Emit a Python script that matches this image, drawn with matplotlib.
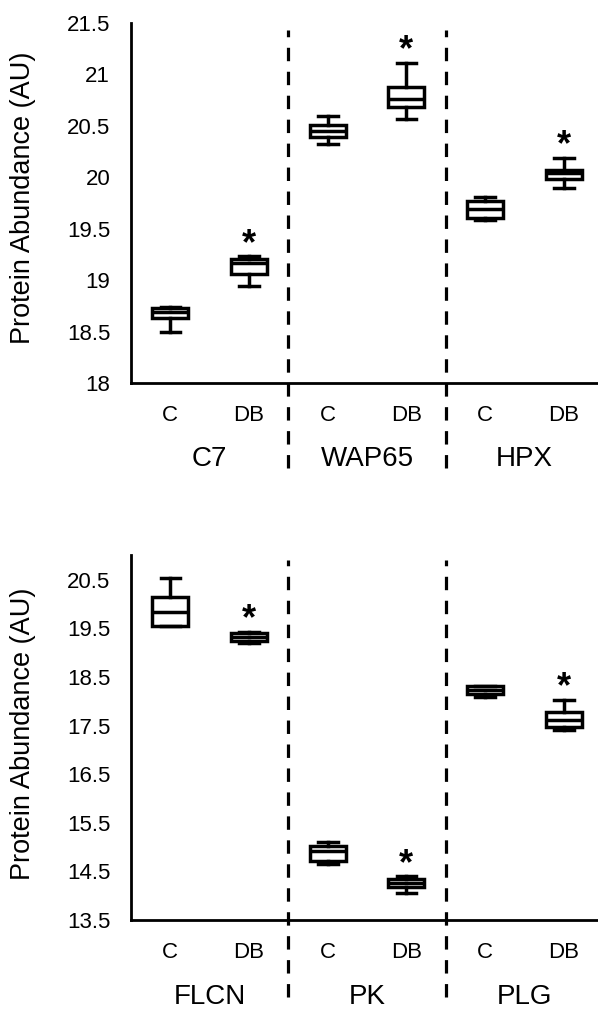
import matplotlib
matplotlib.use("Agg")
import matplotlib.pyplot as plt
import matplotlib.transforms as mtransforms

plt.rcParams['font.family'] = ['Liberation Sans', 'DejaVu Sans']

conditions = ["C", "DB"]

top_genes = ["C7", "WAP65", "HPX"]
top_whislo = [18.50, 18.94, 20.32, 20.57, 19.58, 19.90]
top_q1 = [18.63, 19.06, 20.39, 20.68, 19.60, 19.98]
top_med = [18.69, 19.17, 20.45, 20.76, 19.69, 20.04]
top_q3 = [18.73, 19.21, 20.51, 20.88, 19.77, 20.07]
top_whishi = [18.74, 19.23, 20.60, 21.11, 19.81, 20.19]
top_sig = [False, True, False, True, False, True]
top_yticks = [18, 18.5, 19, 19.5, 20, 20.5, 21, 21.5]
top_ylabels = ["18", "18.5", "19", "19.5", "20", "20.5", "21", "21.5"]

bot_genes = ["FLCN", "PK", "PLG"]
bot_whislo = [19.54, 19.20, 14.65, 14.06, 18.09, 17.41]
bot_q1 = [19.55, 19.24, 14.71, 14.18, 18.15, 17.47]
bot_med = [19.84, 19.33, 14.92, 14.27, 18.24, 17.62]
bot_q3 = [20.15, 19.40, 15.02, 14.34, 18.31, 17.78]
bot_whishi = [20.54, 19.43, 15.11, 14.40, 18.32, 18.03]
bot_sig = [False, True, False, True, False, True]
bot_yticks = [13.5, 14.5, 15.5, 16.5, 17.5, 18.5, 19.5, 20.5]
bot_ylabels = ["13.5", "14.5", "15.5", "16.5", "17.5", "18.5", "19.5", "20.5"]

W, H = 598, 1009
fig = plt.figure(figsize=(W / 100, H / 100), dpi=100)


def panel(rect, genes, lo, q1, med, q3, hi, sig, yticks, ylabels, ylim,
          dash_top, dash_bot, ylabel_y):
    ax = fig.add_axes(rect)
    n = len(med)
    positions = list(range(n))
    stats = []
    for i in range(n):
        stats.append(dict(whislo=lo[i], q1=q1[i], med=med[i], q3=q3[i],
                          whishi=hi[i], fliers=[]))
    lw = 2.5
    ax.bxp(stats, positions=positions, widths=0.46, capwidths=0.25,
           patch_artist=True, showfliers=False,
           boxprops=dict(facecolor="white", edgecolor="black", linewidth=lw),
           medianprops=dict(color="black", linewidth=lw),
           whiskerprops=dict(color="black", linewidth=lw),
           capprops=dict(color="black", linewidth=lw))
    for i in range(n):
        if sig[i]:
            ax.annotate("*", xy=(positions[i], hi[i]), xytext=(0, -4),
                        textcoords="offset points", ha="center", va="bottom",
                        fontsize=26, fontweight="bold", color="black")
    ax.set_xlim(-0.5, n - 0.5)
    ax.set_ylim(*ylim)
    ax.set_yticks(yticks)
    ax.set_yticklabels(ylabels)
    ax.set_xticks(positions)
    ax.set_xticklabels([conditions[i % 2] for i in range(n)])
    ax.tick_params(axis="y", length=0, pad=15, labelsize=16, colors="black")
    ax.tick_params(axis="x", length=0, pad=16, labelsize=16, colors="black")
    for s in ["top", "right"]:
        ax.spines[s].set_visible(False)
    for s in ["left", "bottom"]:
        ax.spines[s].set_linewidth(2.0)
        ax.spines[s].set_color("black")
    trans = mtransforms.blended_transform_factory(ax.transData, ax.transAxes)
    for b in [1.5, 3.5]:
        ax.plot([b, b], [dash_bot, dash_top], transform=trans, clip_on=False,
                color="black", linewidth=2.3, linestyle=(0, (4.2, 3.3)),
                solid_capstyle="butt", dash_capstyle="butt", zorder=5)
    for g, name in enumerate(genes):
        ax.text(2 * g + 0.5, -0.212, name, transform=trans, ha="center",
                va="center", fontsize=20, color="black")
    fig.text(23 / W, ylabel_y, "Protein Abundance (AU)", rotation=90,
             ha="center", va="center", fontsize=19.5, color="black")
    return ax


left = 131 / W
width = 472 / W
panel([left, 1 - 383 / H, width, 360 / H], top_genes, top_whislo, top_q1,
      top_med, top_q3, top_whishi, top_sig, top_yticks, top_ylabels,
      (18, 21.5), 0.98, -0.236, 1 - 198 / H)
panel([left, 1 - 920 / H, width, 364.5 / H], bot_genes, bot_whislo, bot_q1,
      bot_med, bot_q3, bot_whishi, bot_sig, bot_yticks, bot_ylabels,
      (13.5, 21.0), 0.988, -0.211, 1 - 734 / H)

fig.savefig("out.png", dpi=100, facecolor="white")
